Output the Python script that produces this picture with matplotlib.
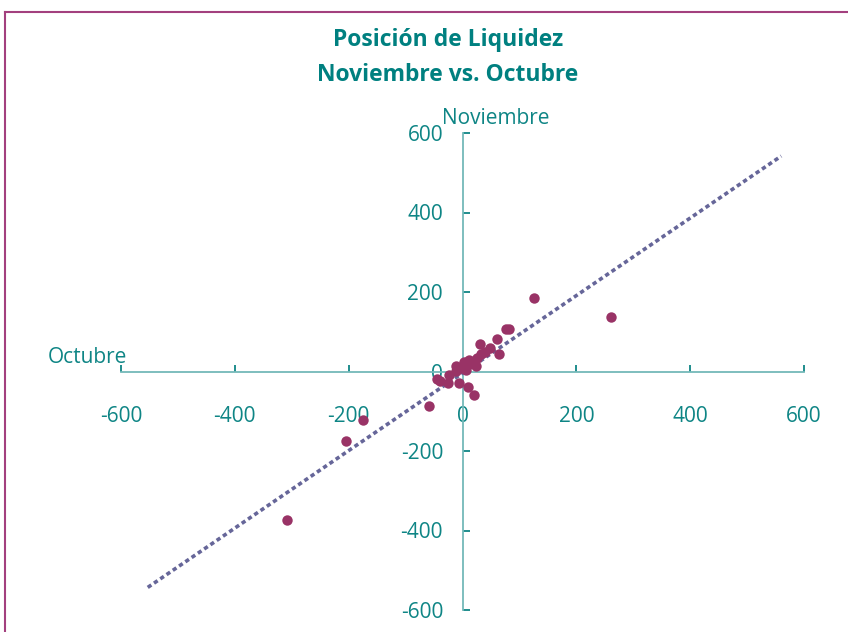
import numpy as np
import matplotlib
matplotlib.use('Agg')
import matplotlib.pyplot as plt
from matplotlib.lines import Line2D

plt.rcParams['font.family'] = ['Open Sans', 'DejaVu Sans']
plt.rcParams['axes.unicode_minus'] = False

# datos (Octubre vs Noviembre)
octubre = [-309, -205, -174, -58, -44, -40, -26, -23, -11, -11, -7, -2, 3, 6, 10,
           12, 12, 18, 21, 24, 25, 30, 33, 39, 49, 61, 65, 77, 81, 125, 261]
noviembre = [-374, -175, -121, -88, -20, -25, -30, -8, 15, 1, -30, 10, 23, 5, -38,
             18, 30, 25, -58, 13, 33, 70, 43, 50, 60, 83, 43, 106, 106, 184, 138]

# linea de tendencia (lineal)
trend_slope = 0.975
trend_intercept = -4
trend_x = [-553, 560]

ticks = [-600, -400, -200, 0, 200, 400, 600]

teal = '#0E8585'
axis_color = '#74B9B9'
point_color = '#993366'
trend_color = '#666699'

W, H = 848, 632
fig = plt.figure(figsize=(W / 100, H / 100), dpi=100)
ax = fig.add_axes([121 / W, 1 - 610 / H, (804 - 121) / W, (610 - 133) / H])

tx = np.array(trend_x, dtype=float)
ax.plot(tx, trend_slope * tx + trend_intercept, color=trend_color,
        linewidth=2.6, linestyle=(0, (1.2, 0.9)), zorder=3)
ax.plot(octubre, noviembre, 'o', color=point_color, markersize=7.5,
        markeredgewidth=0, zorder=4)

ax.set_xlim(-600, 600)
ax.set_ylim(-600, 600)
ax.set_xticks(ticks)
ax.set_yticks(ticks)

for s in ['top', 'right']:
    ax.spines[s].set_visible(False)
ax.spines['left'].set_position(('data', 0))
ax.spines['bottom'].set_position(('data', 0))
ax.spines['left'].set_color(axis_color)
ax.spines['bottom'].set_color(axis_color)
ax.spines['left'].set_linewidth(1.3)
ax.spines['bottom'].set_linewidth(1.3)

ax.tick_params(axis='both', direction='in', length=5, width=1.3,
               color=teal, labelcolor=teal, labelsize=15)
ax.tick_params(axis='x', pad=25)
ax.tick_params(axis='y', pad=14)

ax.annotate('Noviembre', xy=(0, 600), xytext=(-14.5, 10.5),
            textcoords='offset points', ha='left', va='center',
            color=teal, fontsize=15, annotation_clip=False)
ax.annotate('Octubre', xy=(-600, 0), xytext=(4.5, 10),
            textcoords='offset points', ha='right', va='center',
            color=teal, fontsize=15, annotation_clip=False)

fig.text(448 / W, 1 - 40 / H, 'Posición de Liquidez', ha='center', va='center',
         color='#008080', fontsize=16.5, fontweight='bold')
fig.text(448 / W, 1 - 75 / H, 'Noviembre vs. Octubre', ha='center', va='center',
         color='#008080', fontsize=16.5, fontweight='bold')

# marco
border = '#A3407E'
fig.add_artist(Line2D([5 / W, 5 / W], [0, 1 - 12 / H], color=border, linewidth=1.5,
                      transform=fig.transFigure))
fig.add_artist(Line2D([5 / W, 1], [1 - 12 / H, 1 - 12 / H], color=border, linewidth=1.5,
                      transform=fig.transFigure))

fig.savefig('out.png', dpi=100)
